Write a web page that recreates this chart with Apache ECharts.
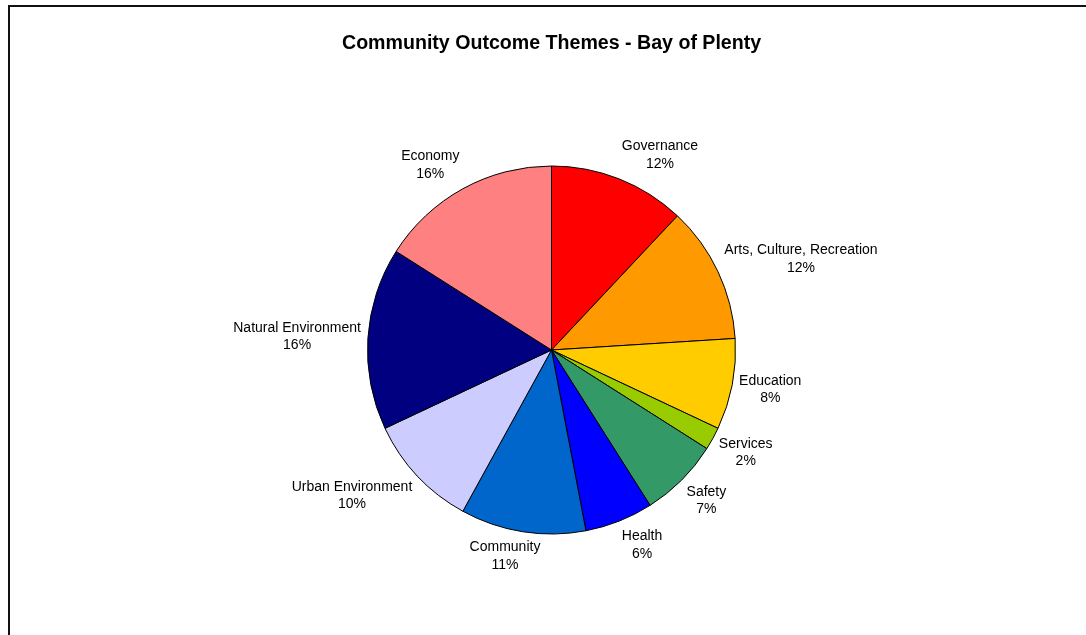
<!DOCTYPE html>
<html>
<head>
<meta charset="utf-8">
<style>
  html, body { margin: 0; padding: 0; background: #fff; }
  #chart { width: 1086px; height: 635px; }
</style>
<script src="https://cdn.jsdelivr.net/npm/echarts@6/dist/echarts.min.js"></script>
</head>
<body>
<div id="chart"></div>
<script>
// Share of community outcome themes
const themes = ['Governance', 'Arts, Culture, Recreation', 'Education', 'Services', 'Safety',
                'Health', 'Community', 'Urban Environment', 'Natural Environment', 'Economy'];
const shares = [12, 12, 8, 2, 7, 6, 11, 10, 16, 16];
const colors = ['#FF0000', '#FF9900', '#FFCC00', '#99CC00', '#339966',
                '#0000FF', '#0066CC', '#CCCCFF', '#000080', '#FF8080'];

const CX = 551.5, CY = 350, R = 184, GAP = 7;
const total = shares.reduce((a, b) => a + b, 0);

// Mid-angle (clockwise from 12 o'clock) of each slice
const midAngles = [];
let acc = 0;
shares.forEach(v => {
  midAngles.push((acc + v / 2) / total * 2 * Math.PI);
  acc += v;
});

const clamp1 = t => Math.max(-1, Math.min(1, t));

const chart = echarts.init(document.getElementById('chart'));
chart.setOption({
  backgroundColor: '#ffffff',
  animation: false,
  title: {
    text: 'Community Outcome Themes - Bay of Plenty',
    left: 342,
    top: 34,
    padding: 0,
    textStyle: { fontFamily: 'Liberation Sans, Arial, sans-serif', fontSize: 19.6, fontWeight: 'bold', color: '#000' }
  },
  graphic: [{
    type: 'rect',
    shape: { x: 9, y: 6, width: 1200, height: 800 },
    style: { fill: 'none', stroke: '#111', lineWidth: 2 },
    silent: true
  }],
  series: [{
    type: 'pie',
    center: [CX, CY],
    radius: R,
    startAngle: 90,
    clockwise: true,
    avoidLabelOverlap: false,
    data: themes.map((n, i) => ({ name: n, value: shares[i], itemStyle: { color: colors[i] } })),
    itemStyle: { borderColor: '#000', borderWidth: 1 },
    emphasis: { disabled: true },
    label: {
      show: true,
      position: 'outside',
      formatter: p => p.name + '\n' + Math.round(p.percent) + '%',
      fontFamily: 'Liberation Sans, Arial, sans-serif',
      fontSize: 14,
      lineHeight: 17.5,
      color: '#000',
      align: 'center'
    },
    labelLine: { show: false },
    // Label box hangs off an anchor just outside the rim, leaning toward its outer corner
    labelLayout: params => {
      const a = midAngles[params.dataIndex];
      const ux = Math.sin(a), uy = -Math.cos(a);
      const w = params.labelRect.width, h = params.labelRect.height;
      const px = CX + ux * (R + GAP), py = CY + uy * (R + GAP);
      return {
        x: px + clamp1(3 * ux) * w / 2,
        y: py + clamp1(1.25 * uy) * h / 2,
        align: 'center',
        verticalAlign: 'middle'
      };
    }
  }]
});
</script>
</body>
</html>
